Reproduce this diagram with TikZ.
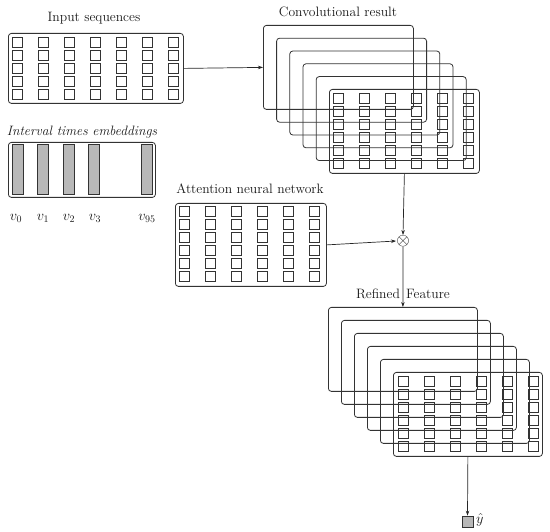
\documentclass[tikz,border=0pt]{standalone}
\usetikzlibrary{arrows.meta}
\tikzset{
  box/.style={draw=black!80, line width=0.8pt, rounded corners=3pt, inner sep=0pt, anchor=north west, rectangle},
  cell/.style={draw=black!80, line width=0.7pt},
  bar/.style={draw=black!80, line width=0.7pt, fill=black!28},
  ttl/.style={font=\fontsize{13.6}{16}\selectfont, text=black!90, inner sep=0pt},
  lbl/.style={font=\fontsize{14}{16}\selectfont, text=black!90, inner sep=0pt},
  conn/.style={draw=black!85, line width=0.7pt, -{Stealth[length=5pt,width=3.5pt]}},
}
\newcommand\mygrid[4]{%
  \foreach \i in {1,...,#3} \foreach \j in {1,...,#4}
    \draw[cell] ({#1+(\i-1)*26},{#2+(\j-1)*13}) rectangle ++(10.5,10.5);}
\begin{document}
\begin{tikzpicture}[x=1pt,y=-1pt]
\useasboundingbox (0,0) rectangle (550,532);
% Input sequences
\node[ttl] (tin) at (94,18) {Input sequences};
\node[box, minimum width=175pt, minimum height=70pt] (inp) at (8,33) {};
\mygrid{12}{37}{7}{5}
% Interval times embeddings
\node[ttl] (temb) at (82,132) {\itshape Interval times embeddings};
\node[box, minimum width=147pt, minimum height=55pt] (emb) at (8,142) {};
\foreach \x/\n in {12/a,37/b,63/c,88/d,141/e}
  \draw[bar] (\x,144) rectangle ++(11,50);
\node[lbl] (v0) at (16,218) {$v_0$};
\node[lbl] (v1) at (43,218) {$v_1$};
\node[lbl] (v2) at (69,218) {$v_2$};
\node[lbl] (v3) at (95,218) {$v_3$};
\node[lbl] (v95) at (147,218) {$v_{95}$};
% Convolutional result
\node[ttl] (tconv) at (338,12) {Convolutional result};
\foreach \k in {0,...,5}
  \node[box, minimum width=150pt, minimum height=84pt] (c\k) at ({263+13.2*\k},{25+12.8*\k}) {};
\mygrid{333}{93}{6}{6}
% Attention
\node[ttl] (tatt) at (250,189) {Attention neural network};
\node[box, minimum width=151pt, minimum height=83pt] (att) at (175,203) {};
\mygrid{179}{206}{6}{6}
% otimes
\node[inner sep=0pt, font=\fontsize{17}{18}\selectfont] (mul) at (403,241) {$\otimes$};
% Refined Feature
\node[ttl] (tref) at (403,294) {Refined\hspace{0.45em}Feature};
\foreach \k in {0,...,5}
  \node[box, minimum width=149pt, minimum height=84pt] (r\k) at ({328+13*\k},{307+13*\k}) {};
\mygrid{398}{376}{6}{6}
% output
\node[draw=black!80, line width=0.7pt, fill=black!28, minimum size=11pt, inner sep=0pt] (yh) at (467.5,521.5) {};
\node[lbl, anchor=west] (yl) at (476,520) {$\hat{y}$};
% connectors
\draw[conn] (inp.east) -- (c0.west);
\draw[conn] (c5.south) -- (mul.north);
\draw[conn] (att.east) -- (mul.west);
\draw[conn] (mul.south) -- (r0.north);
\draw[conn] (r5.south) -- (yh.north);
\end{tikzpicture}
\end{document}
